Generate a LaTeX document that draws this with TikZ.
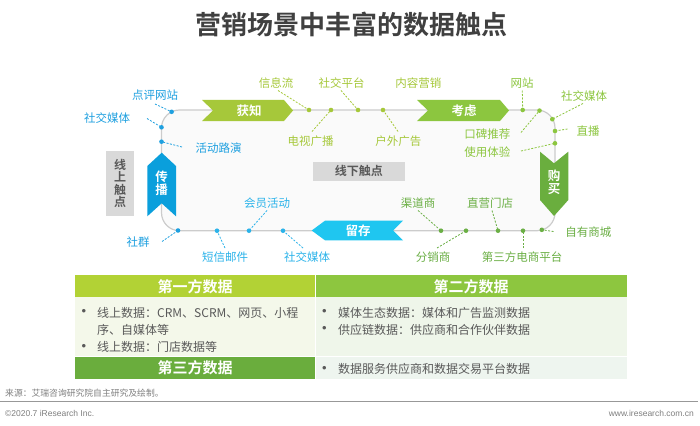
\documentclass[tikz,border=0pt]{standalone}
\usepackage{fontspec}
\setmainfont{Noto Sans CJK SC}[BoldFont={Noto Sans CJK SC Bold}]
\newfontfamily\latinf{Liberation Sans}
\definecolor{cTop}{HTML}{A6C83A}
\definecolor{cKao}{HTML}{8CC63F}
\definecolor{cGou}{HTML}{6AAE3E}
\definecolor{cBR}{HTML}{6BAF45}
\definecolor{cLiu}{HTML}{1FC6F0}
\definecolor{cChuan}{HTML}{0A9FDC}
\definecolor{cLeft}{HTML}{1EA0E0}
\definecolor{cBot}{HTML}{2BB3EA}
\definecolor{sidegray}{HTML}{D9D9D9}
\definecolor{sidetext}{HTML}{595959}
\definecolor{loopfill}{HTML}{FAFAFA}
\definecolor{loopline}{HTML}{CCCCCC}
\definecolor{titlegray}{HTML}{404040}
\definecolor{hA}{HTML}{B2D235}
\definecolor{hB}{HTML}{8DC63F}
\definecolor{hC}{HTML}{6AAD3D}
\definecolor{bA}{HTML}{F4F8EA}
\definecolor{bB}{HTML}{EFF6EA}
\definecolor{bC}{HTML}{EEF5EF}
\definecolor{bodytext}{HTML}{595959}
\definecolor{foot}{HTML}{7F7F7F}
\begin{document}
\begin{tikzpicture}[x=1pt,y=-1pt,
  lbl/.style={font=\fontsize{11.5}{13}\selectfont, inner sep=0pt},
  dotn/.style={circle, fill, inner sep=0pt, minimum size=4.6pt},
  conn/.style={dash pattern=on 2pt off 1.5pt, line width=0.8pt},
  arrtxt/.style={text=white, font=\bfseries\fontsize{12.5}{12.7}\selectfont, inner sep=0pt, align=center},
  sidebox/.style={fill=sidegray, text=sidetext, font=\bfseries\fontsize{12}{12.4}\selectfont, inner sep=0pt, align=center},
  cellhead/.style={text=white, font=\bfseries\fontsize{15}{16}\selectfont, inner sep=0pt},
  body/.style={text=bodytext, font=\fontsize{12}{13}\selectfont, inner sep=0pt, anchor=west},
  bul/.style={text=bodytext, font=\latinf\fontsize{13}{13}\selectfont, inner sep=0pt},
  foottxt/.style={text=foot, inner sep=0pt},
]
\useasboundingbox (0,0) rectangle (700,425);
\fill[white] (0,0) rectangle (700,425);

% title
\node[font=\bfseries\fontsize{26}{28}\selectfont, text=titlegray, inner sep=0pt] (title) at (351,25) {营销场景中丰富的数据触点};

% loop
\draw[loopline, fill=loopfill, line width=1.2pt, rounded corners=18pt] (161.5,110) rectangle (555,230.7);

% side boxes
\node[sidebox, minimum width=28pt, minimum height=65.3pt] (online) at (120,183.4) {线\\上\\触\\点};
\node[sidebox, minimum width=92.3pt, minimum height=19pt] (offline) at (358.8,171.2) {线下触点};

% arrows
\fill[cTop] (202,100) -- (284,100) -- (293,110.5) -- (284,121) -- (202,121) -- (213,110.5) -- cycle;
\node[arrtxt] (huozhi) at (249,110.5) {获知};
\fill[cKao] (417,100) -- (500,100) -- (509,110.5) -- (500,121) -- (417,121) -- (428,110.5) -- cycle;
\node[arrtxt] (kaolv) at (464,110.5) {考虑};
\fill[cGou] (540,151.7) -- (554,163.3) -- (568.3,151.7) -- (568.3,200) -- (554,216) -- (540,200) -- cycle;
\node[arrtxt] (goumai) at (554,182.5) {购\\买};
\fill[cLiu] (311.7,230.5) -- (325,220.7) -- (403,220.7) -- (393,230.5) -- (403,240.3) -- (325,240.3) -- cycle;
\node[arrtxt] (liucun) at (358,230.5) {留存};
\fill[cChuan] (161.7,152.7) -- (176,166) -- (176,216.3) -- (161.7,203.3) -- (147.3,216.3) -- (147.3,166) -- cycle;
\node[arrtxt] (chuanbo) at (161.7,183) {传\\播};

% ---- top group
\node[lbl, text=cTop] (l1) at (276,83.3) {信息流};
\node[lbl, text=cTop] (l2) at (310.7,140.7) {电视广播};
\node[lbl, text=cTop] (l3) at (341.7,83.3) {社交平台};
\node[lbl, text=cTop] (l4) at (398.3,140.7) {户外广告};
\node[lbl, text=cTop] (l5) at (418.3,83.3) {内容营销};
\node[dotn, cTop] (d1) at (309,110) {};
\node[dotn, cTop] (d2) at (331,110) {};
\node[dotn, cTop] (d3) at (358,110) {};
\node[dotn, cTop] (d4) at (383,110) {};
\coordinate (e1) at (278,90.5);
\coordinate (e2) at (312,131.5);
\coordinate (e3) at (341,90.5);
\coordinate (e4) at (398,131.5);
\draw[conn, cTop] (e1) -- (d1.center);
\draw[conn, cTop] (e2) -- (d2.center);
\draw[conn, cTop] (e3) -- (d3.center);
\draw[conn, cTop] (e4) -- (d4.center);

% ---- right group
\node[lbl, text=cKao] (l6) at (522,83.3) {网站};
\node[lbl, text=cKao] (l7) at (487.3,134) {口碑推荐};
\node[lbl, text=cKao] (l8) at (584,96) {社交媒体};
\node[lbl, text=cKao] (l9) at (588,130.7) {直播};
\node[lbl, text=cKao] (l10) at (487.3,151.7) {使用体验};
\node[dotn, cKao] (d6) at (522.7,110) {};
\node[dotn, cKao] (d7) at (539.5,110.6) {};
\node[dotn, cKao] (d8) at (552.3,119.2) {};
\node[dotn, cKao] (d9) at (555,131) {};
\node[dotn, cKao] (d10) at (555,143.3) {};
\coordinate (e6) at (522.3,90.5);
\coordinate (e7) at (521,132.5);
\coordinate (e8) at (583,103.5);
\coordinate (e9) at (567.5,129);
\coordinate (e10) at (521,151);
\draw[conn, cKao] (e6) -- (d6.center);
\draw[conn, cKao] (e7) -- (d7.center);
\draw[conn, cKao] (e8) -- (d8.center);
\draw[conn, cKao] (e9) -- (d9.center);
\draw[conn, cKao] (e10) -- (d10.center);

% ---- bottom right group
\node[lbl, text=cBR] (l11) at (588.3,231.7) {自有商城};
\node[lbl, text=cBR] (l12) at (522,256.7) {第三方电商平台};
\node[lbl, text=cBR] (l13) at (490,203) {直营门店};
\node[lbl, text=cBR] (l14) at (433,256.7) {分销商};
\node[lbl, text=cBR] (l15) at (418,203) {渠道商};
\node[dotn, cBR] (d11) at (541.8,229.8) {};
\node[dotn, cBR] (d12) at (523,230.7) {};
\node[dotn, cBR] (d13) at (498,230.7) {};
\node[dotn, cBR] (d14) at (466,230.7) {};
\node[dotn, cBR] (d15) at (441,230.7) {};
\coordinate (e11) at (553.5,231.5);
\coordinate (e12) at (523,248);
\coordinate (e13) at (492,210.5);
\coordinate (e14) at (437,248);
\coordinate (e15) at (418,210.5);
\draw[conn, cBR] (e11) -- (d11.center);
\draw[conn, cBR] (e12) -- (d12.center);
\draw[conn, cBR] (e13) -- (d13.center);
\draw[conn, cBR] (e14) -- (d14.center);
\draw[conn, cBR] (e15) -- (d15.center);

% ---- bottom left group
\node[lbl, text=cBot] (l16) at (307,256.7) {社交媒体};
\node[lbl, text=cBot] (l17) at (267,203) {会员活动};
\node[lbl, text=cBot] (l18) at (225,256.7) {短信邮件};
\node[lbl, text=cLeft] (l19) at (138,241.7) {社群};
\node[dotn, cBot] (d16) at (283,230.7) {};
\node[dotn, cBot] (d17) at (249,230.7) {};
\node[dotn, cBot] (d18) at (217,230.7) {};
\node[dotn, cLeft] (d19) at (178,230.5) {};
\coordinate (e16) at (303,248);
\coordinate (e17) at (267,210.5);
\coordinate (e18) at (225,248);
\coordinate (e19) at (162,241.5);
\draw[conn, cBot] (e16) -- (d16.center);
\draw[conn, cBot] (e17) -- (d17.center);
\draw[conn, cBot] (e18) -- (d18.center);
\draw[conn, cLeft] (e19) -- (d19.center);

% ---- left group
\node[lbl, text=cLeft] (l20) at (155,95) {点评网站};
\node[lbl, text=cLeft] (l21) at (107,118) {社交媒体};
\node[lbl, text=cLeft] (l22) at (218.5,148) {活动路演};
\node[dotn, cLeft] (d20) at (171.6,111.8) {};
\node[dotn, cLeft] (d21) at (161.5,127.3) {};
\node[dotn, cLeft] (d22) at (161.5,141.7) {};
\coordinate (e20) at (155,104);
\coordinate (e21) at (147,118.5);
\coordinate (e22) at (182,147);
\draw[conn, cLeft] (e20) -- (d20.center);
\draw[conn, cLeft] (e21) -- (d21.center);
\draw[conn, cLeft] (e22) -- (d22.center);

% ---- table
\fill[hA] (75,275) rectangle (315,297.3);
\fill[hB] (315,275) rectangle (627,297.3);
\fill[bA] (75,297.3) rectangle (315,356.5);
\fill[bB] (315,297.3) rectangle (627,356.5);
\fill[hC] (75,356.5) rectangle (315,379.3);
\fill[bC] (315,356.5) rectangle (627,379.3);
\draw[white, line width=0.8pt] (315,275) -- (315,379.3);
\draw[white, line width=0.8pt] (75,356.5) -- (627,356.5);

\node[cellhead] (hd1) at (195,286.3) {第一方数据};
\node[cellhead] (hd2) at (471,286.3) {第二方数据};
\node[cellhead] (hd3) at (195,367.9) {第三方数据};

\node[bul] (b1) at (84,312.7) {•};
\node[body] (t1) at (97,312.7) {线上数据：CRM、SCRM、网页、小程};
\node[body] (t2) at (97,330) {序、自媒体等};
\node[bul] (b2) at (84,347.3) {•};
\node[body] (t3) at (97,347.3) {线上数据：门店数据等};
\node[bul] (b3) at (324.4,312.7) {•};
\node[body] (t4) at (337.8,312.7) {媒体生态数据：媒体和广告监测数据};
\node[bul] (b4) at (324.4,329.5) {•};
\node[body] (t5) at (337.8,329.5) {供应链数据：供应商和合作伙伴数据};
\node[bul] (b5) at (324.4,369.3) {•};
\node[body] (t6) at (337.8,369.3) {数据服务供应商和数据交易平台数据};

% ---- footer
\node[foottxt, anchor=west, font=\fontsize{8.8}{10}\selectfont] (src) at (5,393.3) {来源：艾瑞咨询研究院自主研究及绘制。};
\draw[foot!80, line width=1pt] (0,401.5) -- (698,401.5);
\node[foottxt, anchor=west, font=\latinf\fontsize{8.5}{10}\selectfont] (copy) at (5,413) {©2020.7 iResearch Inc.};
\node[foottxt, anchor=east, font=\latinf\fontsize{8.5}{10}\selectfont] (web) at (694,413) {www.iresearch.com.cn};
\end{tikzpicture}
\end{document}
